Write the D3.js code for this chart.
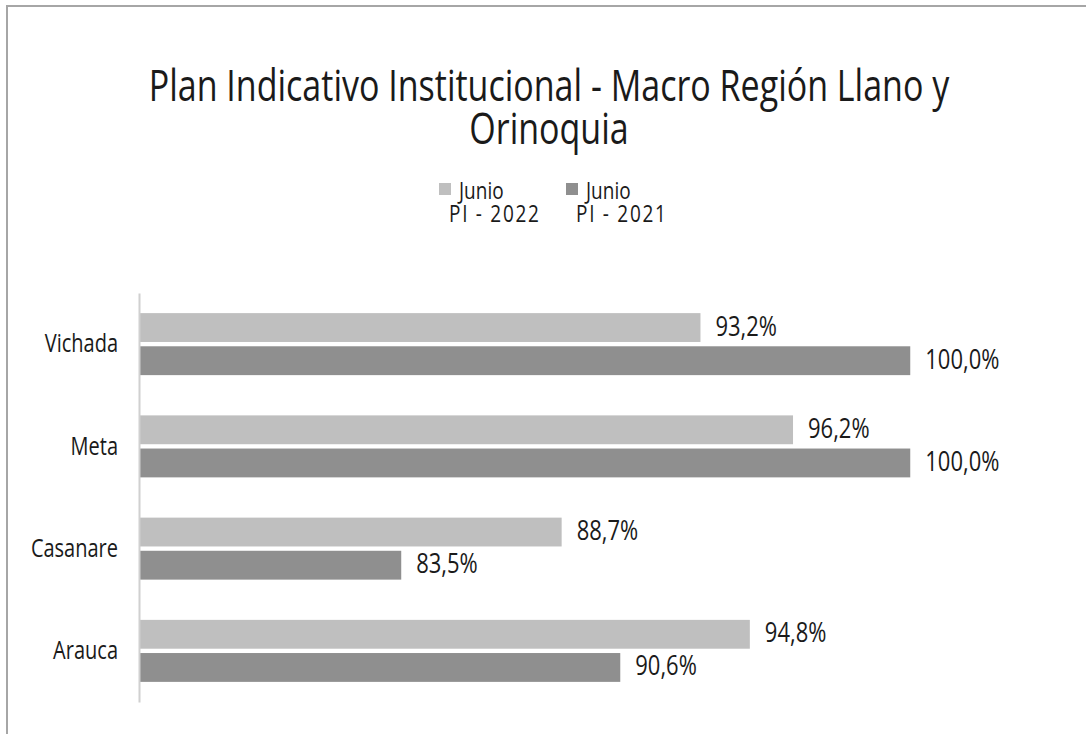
<!DOCTYPE html>
<html><head><meta charset="utf-8">
<script src="https://cdn.jsdelivr.net/npm/d3@7"></script>
<style>body{margin:0;background:#fff;} svg{display:block;}</style>
</head><body>
<script>
const categories = ["Vichada", "Meta", "Casanare", "Arauca"];
const seriesNames = ["Junio PI - 2022", "Junio PI - 2021"];
const values2022 = [93.2, 96.2, 88.7, 94.8];
const values2021 = [100.0, 100.0, 83.5, 90.6];
const colors = ["#bfbfbf", "#8f8f8f"];
const FONT = "'Open Sans', 'DejaVu Sans', sans-serif";

const W = 1086, H = 734;
const svg = d3.select("body").append("svg").attr("width", W).attr("height", H);
svg.append("rect").attr("x", 7).attr("y", 6).attr("width", W + 10).attr("height", H + 10)
  .attr("fill", "#fff").attr("stroke", "#a6a6a6").attr("stroke-width", 2);

function stretchedText(parent, x, y, size, sy, txt, anchor, len) {
  const t = parent.append("text")
    .attr("transform", `translate(${x},${y}) scale(1,${sy})`)
    .attr("text-anchor", anchor || "start")
    .attr("font-family", FONT).attr("font-size", size).attr("fill", "#1a1a1a")
    .text(txt);
  if (len) t.attr("textLength", len).attr("lengthAdjust", "spacing");
  return t;
}

stretchedText(svg, 549, 101, 34, 1.28, "Plan Indicativo Institucional - Macro Región Llano y", "middle");
stretchedText(svg, 549, 144, 34, 1.28, "Orinoquia", "middle");

// legend
const legX = [439, 566];
seriesNames.forEach((s, i) => {
  const g = svg.append("g");
  g.append("rect").attr("x", legX[i]).attr("y", 183).attr("width", 12).attr("height", 12).attr("fill", colors[i]);
  const parts = [s.slice(0, 5), s.slice(6)];
  stretchedText(g, legX[i] + 20, 199, 19, 1.25, parts[0]);
  stretchedText(g, legX[i] + 10, 222, 19, 1.25, parts[1], "start", 90);
});

const x = d3.scaleLinear().domain([75, 105]).range([139, 1064.5]);
const y = d3.scaleBand().domain(categories).range([293, 702]).paddingInner(0).paddingOuter(0);
const inner = d3.scaleBand().domain([0, 1]).range([y.bandwidth() / 2 - 31, y.bandwidth() / 2 + 31]).paddingInner(0.13);

const data = categories.map((c, i) => ({c, v: [values2022[i], values2021[i]]}));
const fmt = v => d3.format(".1f")(v).replace(".", ",") + "%";

const groups = svg.selectAll("g.cat").data(data).join("g").attr("class", "cat")
  .attr("transform", d => `translate(0,${y(d.c)})`);
groups.selectAll("rect").data(d => d.v).join("rect")
  .attr("x", x(75)).attr("y", (v, i) => inner(i))
  .attr("width", v => x(v) - x(75)).attr("height", inner.bandwidth())
  .attr("fill", (v, i) => colors[i]);
groups.selectAll("text.val").data(d => d.v).join("text").attr("class", "val")
  .attr("transform", (v, i) => `translate(${x(v) + 15},${inner(i) + inner.bandwidth() / 2 + 8}) scale(1,1.2)`)
  .attr("font-family", FONT).attr("font-size", 22).attr("fill", "#1a1a1a")
  .text(fmt);

const yAxis = svg.append("g").attr("transform", `translate(${x(75)},0)`)
  .call(d3.axisLeft(y).tickSize(0).tickPadding(21));
yAxis.select(".domain").attr("stroke", "#d0d0d0").attr("stroke-width", 2);
yAxis.selectAll("text").attr("font-family", FONT).attr("font-size", 20).attr("fill", "#1a1a1a")
  .attr("transform", "scale(1,1.28)");
</script>
</body></html>
